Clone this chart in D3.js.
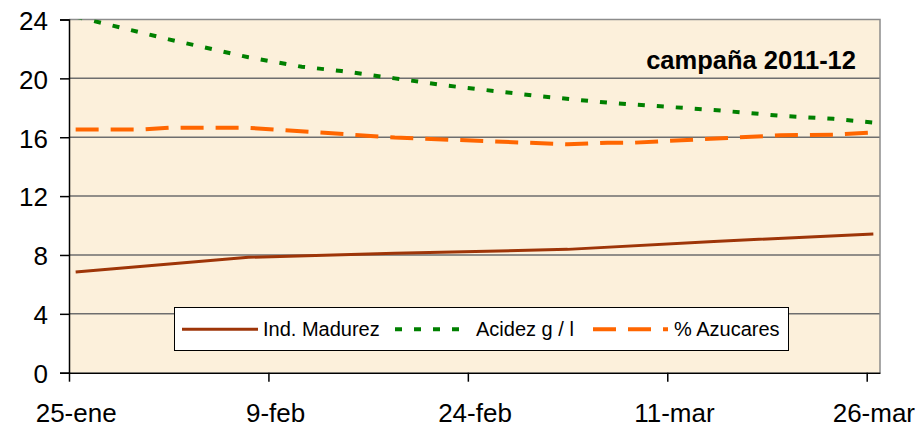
<!DOCTYPE html>
<html>
<head>
<meta charset="utf-8">
<script src="https://cdn.jsdelivr.net/npm/d3@7"></script>
<style>
  body { margin: 0; background: #fff; }
  svg { font-family: "Liberation Sans", Arial, sans-serif; }
</style>
</head>
<body>
<svg id="chart" width="924" height="426"></svg>
<script>
// sample dates and values per series
const madurezDates = ["2011-01-25", "2011-02-07", "2011-02-18", "2011-03-03", "2011-03-14", "2011-03-26"];
const madurezValues = [6.84, 7.84, 8.12, 8.38, 8.92, 9.42];

const acidezDates = ["2011-01-25", "2011-02-01", "2011-02-07", "2011-02-11", "2011-02-14", "2011-02-18",
                     "2011-02-22", "2011-03-01", "2011-03-06", "2011-03-10", "2011-03-14", "2011-03-19",
                     "2011-03-23", "2011-03-26"];
const acidezValues = [24.2, 22.65, 21.43, 20.79, 20.5, 20.0, 19.5, 18.78, 18.35, 18.1, 17.85, 17.46, 17.25, 17.0];

const azucarDates = ["2011-01-25", "2011-01-30", "2011-02-01", "2011-02-07", "2011-02-18", "2011-02-25",
                     "2011-03-03", "2011-03-06", "2011-03-08", "2011-03-19", "2011-03-23", "2011-03-26"];
const azucarValues = [16.53, 16.53, 16.64, 16.64, 15.98, 15.73, 15.52, 15.63, 15.63, 16.13, 16.17, 16.33];

const xTickDates = ["2011-01-25", "2011-02-09", "2011-02-24", "2011-03-11", "2011-03-26"];
const xTickLabels = ["25-ene", "9-feb", "24-feb", "11-mar", "26-mar"];
const yTicks = [0, 4, 8, 12, 16, 20, 24];

const parse = d3.timeParse("%Y-%m-%d");
const svg = d3.select("#chart");

const plotLeft = 69, plotRight = 880, plotTop = 19.5, plotBottom = 372.7;

const x = d3.scaleTime()
  .domain([parse("2011-01-25"), parse("2011-03-27")])
  .range([plotLeft, plotRight]);
const y = d3.scaleLinear().domain([0, 24]).range([plotBottom, plotTop]);

// points sit in the middle of their day
const mid = s => d3.timeHour.offset(parse(s), 12);

// plot area
svg.append("rect")
  .attr("x", plotLeft).attr("y", plotTop)
  .attr("width", plotRight - plotLeft).attr("height", plotBottom - plotTop)
  .attr("fill", "#fcf0db");

// grid
svg.append("g")
  .selectAll("line")
  .data(yTicks.filter(v => v > 0 && v < 24))
  .join("line")
  .attr("x1", plotLeft).attr("x2", plotRight)
  .attr("y1", d => y(d)).attr("y2", d => y(d))
  .attr("stroke", "#6e6e6e").attr("stroke-width", 1.5);

// top / right border
svg.append("path")
  .attr("d", `M${plotLeft},${plotTop}H${plotRight}V${plotBottom}`)
  .attr("fill", "none").attr("stroke", "#8c8c8c").attr("stroke-width", 1.5);

svg.append("clipPath").attr("id", "clip")
  .append("rect")
  .attr("x", plotLeft).attr("y", plotTop)
  .attr("width", plotRight - plotLeft).attr("height", plotBottom - plotTop);

const series = [
  { name: "Ind. Madurez", dates: madurezDates, values: madurezValues, color: "#9e3508", width: 3, dash: null },
  { name: "Acidez g / l", dates: acidezDates, values: acidezValues, color: "#008000", width: 4, dash: "7,12" },
  { name: "% Azucares", dates: azucarDates, values: azucarValues, color: "#ff6600", width: 4, dash: "23,12" }
];

const line = d3.line().x(d => x(d[0])).y(d => y(d[1]));

const lines = svg.append("g").attr("clip-path", "url(#clip)");
series.forEach(s => {
  lines.append("path")
    .datum(s.dates.map((d, i) => [mid(d), s.values[i]]))
    .attr("d", line)
    .attr("fill", "none")
    .attr("stroke", s.color)
    .attr("stroke-width", s.width)
    .attr("stroke-dasharray", s.dash);
});

// y axis
const yAxis = svg.append("g")
  .attr("transform", `translate(${plotLeft},0)`)
  .call(d3.axisLeft(y).tickValues(yTicks).tickSize(9).tickPadding(12));
yAxis.select(".domain").attr("stroke", "#000").attr("stroke-width", 1.5);
yAxis.selectAll(".tick line").attr("stroke", "#000").attr("stroke-width", 1.5);
yAxis.selectAll("text")
  .attr("font-size", 26).attr("fill", "#000")
  .attr("font-family", "Liberation Sans, Arial, sans-serif")
  .attr("dy", "0.38em");

// x axis
const halfDay = (x(parse("2011-01-26")) - x(parse("2011-01-25"))) / 2;
const xAxis = svg.append("g")
  .attr("transform", `translate(0,${plotBottom})`)
  .call(d3.axisBottom(x)
    .tickValues(xTickDates.map(parse))
    .tickFormat((d, i) => xTickLabels[i])
    .tickSize(9).tickSizeOuter(0));
xAxis.select(".domain").attr("stroke", "#000").attr("stroke-width", 1.5);
xAxis.selectAll(".tick line").attr("stroke", "#000").attr("stroke-width", 1.5);
xAxis.selectAll("text")
  .attr("font-size", 26).attr("fill", "#000")
  .attr("font-family", "Liberation Sans, Arial, sans-serif")
  .attr("x", halfDay).attr("y", 49).attr("dy", 0);

// title
svg.append("text")
  .attr("x", 856).attr("y", 68.5)
  .attr("text-anchor", "end")
  .attr("font-size", 25.5).attr("font-weight", "bold")
  .text("campaña 2011-12");

// legend
const legend = svg.append("g");
legend.append("rect")
  .attr("x", 174.5).attr("y", 307.5)
  .attr("width", 614).attr("height", 43)
  .attr("fill", "#fff").attr("stroke", "#000").attr("stroke-width", 1);

const legendPos = [
  { x1: 182, x2: 258, tx: 263 },
  { x1: 395, x2: 460, tx: 476 },
  { x1: 593, x2: 668, tx: 674 }
];
series.forEach((s, i) => {
  const p = legendPos[i];
  legend.append("line")
    .attr("x1", p.x1).attr("x2", p.x2)
    .attr("y1", 329.3).attr("y2", 329.3)
    .attr("stroke", s.color).attr("stroke-width", s.width)
    .attr("stroke-dasharray", s.dash);
  legend.append("text")
    .attr("x", p.tx).attr("y", 336)
    .attr("font-size", 20)
    .text(s.name);
});
</script>
</body>
</html>
